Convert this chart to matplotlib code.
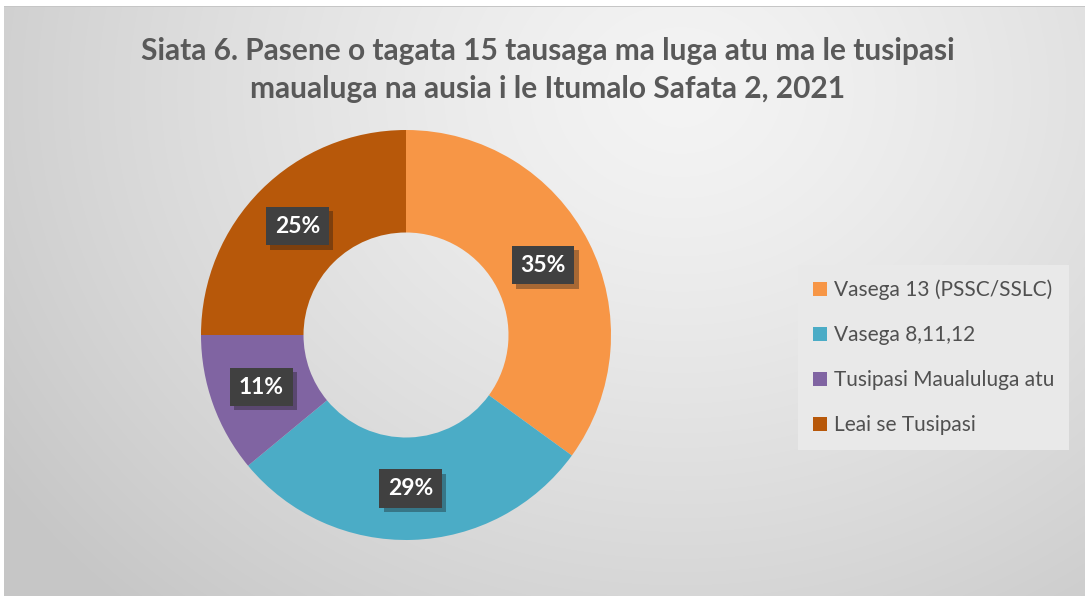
import numpy as np
import matplotlib
matplotlib.use("Agg")
import matplotlib.pyplot as plt
from matplotlib import patheffects as pe

# ---- data ----
categories = ["Vasega 13 (PSSC/SSLC)", "Vasega 8,11,12", "Tusipasi Maualuluga atu", "Leai se Tusipasi"]
values = [35, 29, 11, 25]
colors = ["#F79646", "#4BACC6", "#8064A2", "#B7580A"]
title_lines = ["Siata 6. Pasene o tagata 15 tausaga ma luga atu ma le tusipasi",
               "maualuga na ausia i le Itumalo Safata 2, 2021"]

W, H = 1085, 596
fig = plt.figure(figsize=(W / 100, H / 100), dpi=100)
fig.patch.set_facecolor("white")

# ---- background gradient ----
bg = fig.add_axes([0, 0, 1, 1])
yy, xx = np.mgrid[0:H, 0:W]
d = np.sqrt(((xx - 680) / 1.0) ** 2 + ((yy - 90) / 0.85) ** 2)
v = 244 - 46 * np.clip(d / 830, 0, 1) ** 1.3
img = np.stack([v, v, v], axis=-1) / 255.0
img[:7, :, :] = 1.0
img[:, :4, :] = 1.0
img[6, 4:, :] = 0.78
bg.imshow(img, extent=[0, W, H, 0], aspect="auto", interpolation="bilinear")
bg.set_xlim(0, W)
bg.set_ylim(H, 0)
bg.axis("off")

# ---- donut ----
cx, cy, R = 406, 335, 205
ax = fig.add_axes([(cx - R) / W, (H - cy - R) / H, 2 * R / W, 2 * R / H])
wedges, _ = ax.pie(values, colors=colors, startangle=90, counterclock=False,
                   radius=1.0, wedgeprops=dict(width=0.5, edgecolor="none"))
ax.set_xlim(-1, 1)
ax.set_ylim(-1, 1)
ax.set_aspect("equal")
ax.axis("off")

total = sum(values)
start = 90.0
for val in values:
    ang = start - val / total * 360 / 2
    start -= val / total * 360
    r = 0.75
    x, y = r * np.cos(np.radians(ang)), r * np.sin(np.radians(ang))
    t = ax.text(x, y, f"{val}%", ha="center", va="center", color="white",
                fontsize=16.5, fontweight="bold", family="Lato",
                bbox=dict(boxstyle="square,pad=0.38", facecolor="#404040", edgecolor="none"))
    t.get_bbox_patch().set_path_effects([pe.SimplePatchShadow(offset=(3, -3), alpha=0.35), pe.Normal()])

# ---- title ----
fig.text(548 / W, 1 - 51 / H, title_lines[0], ha="center", va="center",
         fontsize=21.5, fontweight="bold", color="#595959", family="Lato")
fig.text(548 / W, 1 - 89 / H, title_lines[1], ha="center", va="center",
         fontsize=21.5, fontweight="bold", color="#595959", family="Lato")

# ---- legend ----
leg = fig.legend(wedges, categories, loc="upper left",
                 bbox_to_anchor=(798 / W, 1 - 265 / H), bbox_transform=fig.transFigure,
                 frameon=True, fancybox=False, framealpha=1.0, facecolor="#E9E9E9",
                 edgecolor="none", prop=dict(family="Lato", size=15),
                 labelcolor="#505050", handlelength=0.7, handleheight=0.7,
                 handletextpad=0.35, labelspacing=1.2, borderpad=0.7, borderaxespad=0)

fig.savefig("out.png", dpi=100)
